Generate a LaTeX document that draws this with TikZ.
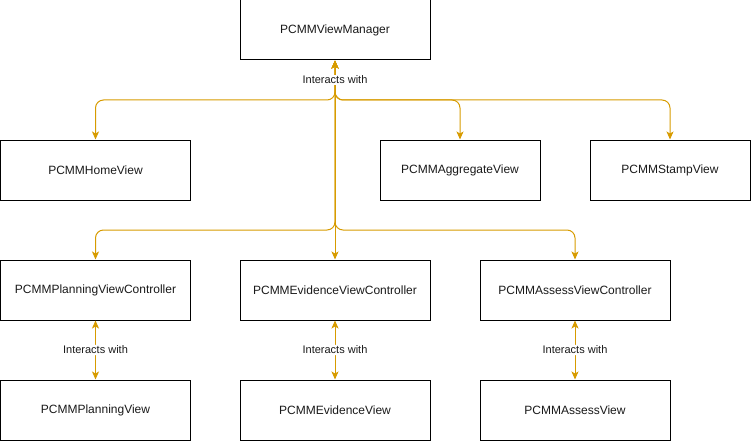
\documentclass[tikz,border=0pt]{standalone}
\usepackage{fontspec}
\setmainfont{Liberation Sans}
\usetikzlibrary{arrows.meta}
\definecolor{conncol}{HTML}{D79B00}
\definecolor{txtcol}{HTML}{1A1A1A}
\tikzset{
  box/.style={draw=black, line width=1pt, fill=white, minimum height=60pt, inner sep=0pt, font=\fontsize{12}{14}\selectfont, text=txtcol},
  conn/.style={draw=conncol, line width=1pt, rounded corners=8pt, {Stealth[length=8pt,width=7pt,inset=2pt]}-{Stealth[length=8pt,width=7pt,inset=2pt]}},
  lbl/.style={fill=white, inner sep=1pt, font=\fontsize{11}{13}\selectfont, text=txtcol}
}
\begin{document}
\begin{tikzpicture}[x=1pt,y=-1pt]
\useasboundingbox (0,0) rectangle (751,441);
\node[box, minimum width=190pt] (vm) at (335,30) {PCMMViewManager};
\node[box, minimum width=190pt] (home) at (95.5,170) {PCMMHomeView};
\node[box, minimum width=160pt] (agg) at (460,170) {PCMMAggregateView};
\node[box, minimum width=160pt] (stamp) at (670,170) {PCMMStampView};
\node[box, minimum width=190pt] (planc) at (95.5,290) {PCMMPlanningViewController};
\node[box, minimum width=190pt] (evc) at (335,290) {PCMMEvidenceViewController};
\node[box, minimum width=190pt] (assc) at (575,290) {PCMMAssessViewController};
\node[box, minimum width=190pt] (planv) at (95.5,410) {PCMMPlanningView};
\node[box, minimum width=190pt] (evv) at (335,410) {PCMMEvidenceView};
\node[box, minimum width=190pt] (assv) at (575,410) {PCMMAssessView};
\coordinate (j1) at (335,100);
\coordinate (j2) at (335,230);
\draw[conn] (vm.south) -- (j1) -| (home.north);
\draw[conn] (vm.south) -- (j1) -| (agg.north);
\draw[conn] (vm.south) -- (j1) -| (stamp.north);
\draw[conn] (vm.south) -- (j2) -| (planc.north);
\draw[conn] (vm.south) -- (j2) -| (assc.north);
\draw[conn] (vm.south) -- (evc.north);
\node[lbl] (l0) at (335,80) {Interacts with};
\draw[conn] (planc.south) -- node[lbl] (l1) {Interacts with} (planv.north);
\draw[conn] (evc.south) -- node[lbl] (l2) {Interacts with} (evv.north);
\draw[conn] (assc.south) -- node[lbl] (l3) {Interacts with} (assv.north);
\end{tikzpicture}
\end{document}
